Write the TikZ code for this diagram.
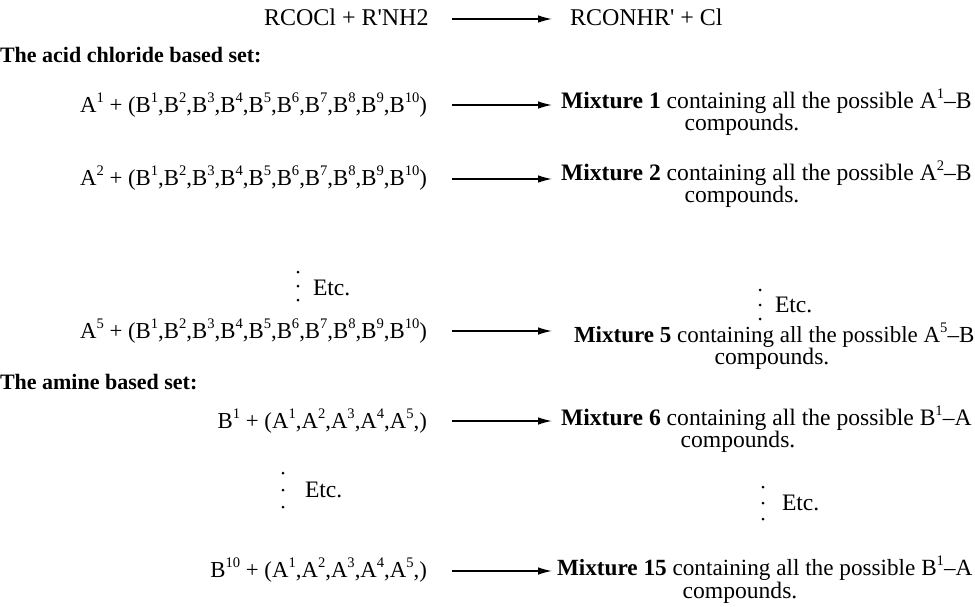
\documentclass[tikz,border=0pt]{standalone}
\usepackage{fontspec}
\setmainfont{Liberation Serif}[Ligatures=TeXOff]
\usetikzlibrary{arrows.meta}
\newcommand\supx[1]{\raisebox{0.42em}{\fontsize{7.3}{7}\selectfont #1}}
\tikzset{
  txt/.style={inner sep=0pt, outer sep=0pt, font=\fontsize{11.4}{11}\selectfont},
  lhs/.style={txt, anchor=base east},
  rhs/.style={inner sep=0pt, outer sep=0pt, anchor=base west, font=\fontsize{11.8}{11}\selectfont},
  ctr/.style={inner sep=0pt, outer sep=0pt, anchor=base, font=\fontsize{11.8}{11}\selectfont},
  big/.style={inner sep=0pt, outer sep=0pt, anchor=base west, font=\fontsize{12}{12}\selectfont},
  hdr/.style={inner sep=0pt, outer sep=0pt, anchor=base west, font=\fontsize{11}{11}\selectfont\bfseries},
  arr/.style={line width=0.7pt, -{Latex[length=7pt,width=3.8pt]}},
  dotp/.style={circle, fill=black, inner sep=0pt, minimum size=1.5pt},
}
\begin{document}
\begin{tikzpicture}[x=0.5pt,y=-0.5pt]
\useasboundingbox (0,0) rectangle (975,606);
% general reaction
\node[big] (r0) at (264,25) {RCOCl + R'NH2};
\coordinate (s0) at (452,19); \coordinate (e0) at (552,19);
\draw[arr] (s0) -- (e0);
\node[big] (p0) at (570,25) {RCONHR' + Cl};
% acid chloride set
\node[hdr] (h1) at (0,62) {The acid chloride based set:};
\node[lhs] (l1) at (427,112) {A\supx{1} + (B\supx{1},B\supx{2},B\supx{3},B\supx{4},B\supx{5},B\supx{6},B\supx{7},B\supx{8},B\supx{9},B\supx{10})};
\coordinate (s1) at (452,105); \coordinate (e1) at (552,105);
\draw[arr] (s1) -- (e1);
\node[rhs] (m1) at (561,108) {\textbf{Mixture 1} containing all the possible A\supx{1}\textendash B};
\node[ctr] (c1) at (742,130) {compounds.};

\node[lhs] (l2) at (427,185) {A\supx{2} + (B\supx{1},B\supx{2},B\supx{3},B\supx{4},B\supx{5},B\supx{6},B\supx{7},B\supx{8},B\supx{9},B\supx{10})};
\coordinate (s2) at (452,179); \coordinate (e2) at (552,179);
\draw[arr] (s2) -- (e2);
\node[rhs] (m2) at (561,180) {\textbf{Mixture 2} containing all the possible A\supx{2}\textendash B};
\node[ctr] (c2) at (742,202) {compounds.};

\node[dotp] (d1a) at (298,272) {}; \node[dotp] (d1b) at (298,286) {}; \node[dotp] (d1c) at (298,300) {};
\node[rhs] (t1) at (313,295) {Etc.};
\node[dotp] (d2a) at (760,290) {}; \node[dotp] (d2b) at (760,305) {}; \node[dotp] (d2c) at (760,319) {};
\node[rhs] (t2) at (775,312) {Etc.};

\node[lhs] (l5) at (427,338) {A\supx{5} + (B\supx{1},B\supx{2},B\supx{3},B\supx{4},B\supx{5},B\supx{6},B\supx{7},B\supx{8},B\supx{9},B\supx{10})};
\coordinate (s5) at (452,331); \coordinate (e5) at (552,331);
\draw[arr] (s5) -- (e5);
\node[rhs, font=\fontsize{11.5}{11}\selectfont] (m5) at (574,342) {\textbf{Mixture 5} containing all the possible A\supx{5}\textendash B};
\node[ctr] (c5) at (772,364) {compounds.};

% amine set
\node[hdr] (h2) at (0,389) {The amine based set:};
\node[lhs] (l6) at (427,428) {B\supx{1} + (A\supx{1},A\supx{2},A\supx{3},A\supx{4},A\supx{5},)};
\coordinate (s6) at (452,421); \coordinate (e6) at (552,421);
\draw[arr] (s6) -- (e6);
\node[rhs] (m6) at (561,425) {\textbf{Mixture 6} containing all the possible B\supx{1}\textendash A};
\node[ctr] (c6) at (738,447) {compounds.};

\node[dotp] (d3a) at (283,473) {}; \node[dotp] (d3b) at (283,490) {}; \node[dotp] (d3c) at (283,507) {};
\node[rhs] (t3) at (305,497) {Etc.};
\node[dotp] (d4a) at (763,487) {}; \node[dotp] (d4b) at (763,503) {}; \node[dotp] (d4c) at (763,519) {};
\node[rhs] (t4) at (782,510) {Etc.};

\node[lhs] (l15) at (427,577) {B\supx{10} + (A\supx{1},A\supx{2},A\supx{3},A\supx{4},A\supx{5},)};
\coordinate (s15) at (452,571); \coordinate (e15) at (552,571);
\draw[arr] (s15) -- (e15);
\node[rhs, font=\fontsize{11.6}{11}\selectfont] (m15) at (557,575) {\textbf{Mixture 15} containing all the possible B\supx{1}\textendash A};
\node[ctr] (c15) at (740,598) {compounds.};
\end{tikzpicture}
\end{document}
